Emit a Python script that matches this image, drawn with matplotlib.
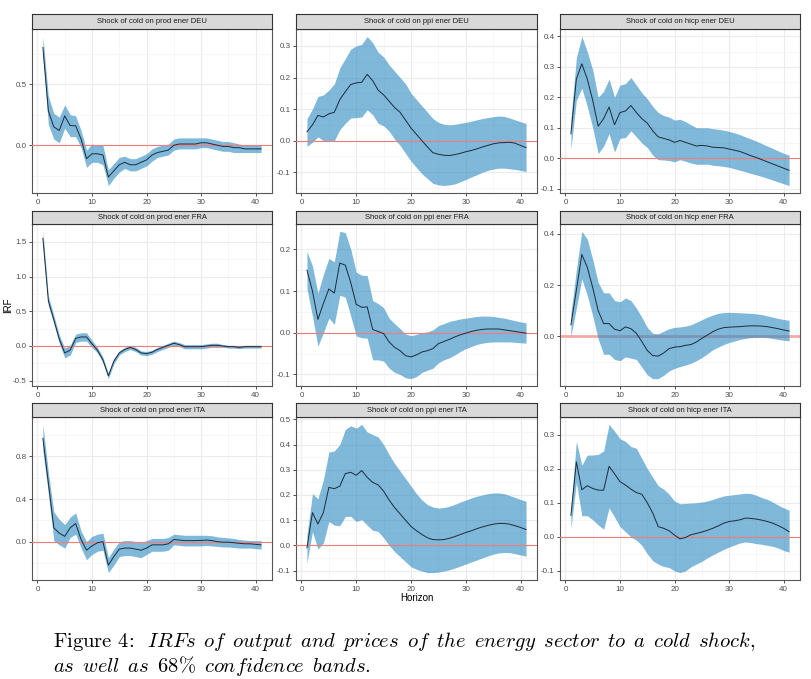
import matplotlib.pyplot as plt
from matplotlib.ticker import FormatStrFormatter

plt.rcParams['font.family'] = ['Liberation Sans', 'DejaVu Sans']
plt.rcParams['mathtext.fontset'] = 'cm'
plt.rcParams['axes.unicode_minus'] = False

horizon = list(range(1, 42))

# prod ener DEU
prod_deu = [0.80, 0.28, 0.15, 0.12, 0.24, 0.16, 0.16, 0.05, -0.11, -0.07,
            -0.07, -0.08, -0.26, -0.21, -0.16, -0.14, -0.16, -0.16, -0.14, -0.12,
            -0.08, -0.06, -0.05, -0.04, 0.00, 0.01, 0.01, 0.01, 0.01, 0.02,
            0.02, 0.01, 0.00, -0.01, -0.01, -0.02, -0.02, -0.03, -0.03, -0.03, -0.03]
prod_deu_hi = [0.89, 0.40, 0.26, 0.23, 0.33, 0.25, 0.24, 0.12, -0.04, 0.01,
               0.00, 0.00, -0.20, -0.15, -0.10, -0.09, -0.11, -0.11, -0.09, -0.07,
               -0.03, -0.01, 0.00, 0.01, 0.05, 0.06, 0.06, 0.06, 0.06, 0.06,
               0.06, 0.05, 0.04, 0.03, 0.03, 0.02, 0.01, 0.00, 0.00, 0.00, 0.00]
prod_deu_lo = [0.72, 0.17, 0.05, 0.02, 0.14, 0.07, 0.07, -0.02, -0.18, -0.14,
               -0.14, -0.16, -0.33, -0.27, -0.22, -0.19, -0.21, -0.21, -0.19, -0.17,
               -0.13, -0.10, -0.09, -0.08, -0.04, -0.03, -0.03, -0.03, -0.03, -0.02,
               -0.02, -0.03, -0.04, -0.05, -0.05, -0.06, -0.06, -0.06, -0.06, -0.06, -0.06]

# ppi ener DEU
ppi_deu = [0.028, 0.05, 0.08, 0.075, 0.085, 0.09, 0.13, 0.155, 0.178, 0.183,
           0.185, 0.21, 0.19, 0.16, 0.145, 0.125, 0.105, 0.09, 0.065, 0.04,
           0.02, 0.00, -0.02, -0.038, -0.043, -0.046, -0.047, -0.044, -0.04, -0.035,
           -0.031, -0.026, -0.02, -0.015, -0.01, -0.007, -0.006, -0.005, -0.008, -0.015, -0.022]
ppi_deu_hi = [0.07, 0.10, 0.14, 0.145, 0.16, 0.18, 0.23, 0.26, 0.29, 0.30,
              0.305, 0.33, 0.31, 0.28, 0.265, 0.24, 0.22, 0.20, 0.18, 0.15,
              0.13, 0.11, 0.09, 0.07, 0.058, 0.052, 0.05, 0.052, 0.055, 0.058,
              0.062, 0.066, 0.07, 0.073, 0.076, 0.078, 0.077, 0.072, 0.066, 0.06, 0.055]
ppi_deu_lo = [-0.018, -0.005, 0.012, 0.0, -0.003, 0.0, 0.035, 0.055, 0.072, 0.073,
              0.075, 0.098, 0.082, 0.055, 0.047, 0.03, 0.005, -0.015, -0.04, -0.065,
              -0.085, -0.105, -0.12, -0.135, -0.14, -0.142, -0.14, -0.137, -0.13, -0.123,
              -0.115, -0.108, -0.10, -0.094, -0.09, -0.087, -0.087, -0.089, -0.091, -0.094, -0.098]

# hicp ener DEU
hicp_deu = [0.08, 0.26, 0.31, 0.26, 0.19, 0.105, 0.13, 0.168, 0.11, 0.15,
            0.155, 0.173, 0.15, 0.13, 0.115, 0.09, 0.07, 0.065, 0.06, 0.052,
            0.058, 0.052, 0.046, 0.04, 0.042, 0.04, 0.036, 0.035, 0.034, 0.03,
            0.026, 0.022, 0.015, 0.008, 0.002, -0.005, -0.012, -0.019, -0.026, -0.033, -0.04]
hicp_deu_hi = [0.13, 0.33, 0.40, 0.35, 0.29, 0.20, 0.22, 0.26, 0.20, 0.24,
               0.245, 0.265, 0.24, 0.215, 0.195, 0.17, 0.15, 0.14, 0.135, 0.125,
               0.128, 0.12, 0.11, 0.10, 0.10, 0.10, 0.097, 0.095, 0.092, 0.088,
               0.083, 0.077, 0.07, 0.063, 0.056, 0.048, 0.04, 0.032, 0.024, 0.016, 0.01]
hicp_deu_lo = [0.03, 0.19, 0.23, 0.17, 0.10, 0.015, 0.04, 0.08, 0.02, 0.065,
               0.068, 0.09, 0.07, 0.05, 0.035, 0.01, -0.005, -0.006, -0.008, -0.012,
               -0.005, -0.01, -0.016, -0.02, -0.02, -0.02, -0.023, -0.025, -0.027, -0.03,
               -0.035, -0.04, -0.045, -0.05, -0.055, -0.06, -0.066, -0.072, -0.078, -0.084, -0.09]

# prod ener FRA
prod_fra = [1.55, 0.65, 0.38, 0.10, -0.10, -0.06, 0.11, 0.13, 0.13, 0.03,
            -0.06, -0.20, -0.43, -0.22, -0.10, -0.05, -0.02, -0.05, -0.10, -0.11,
            -0.09, -0.05, -0.02, 0.01, 0.04, 0.02, -0.01, -0.01, -0.01, -0.01,
            0.00, 0.01, 0.01, 0.00, -0.01, -0.01, -0.02, -0.01, -0.01, -0.01, -0.01]
prod_fra_hi = [1.65, 0.72, 0.44, 0.16, -0.03, 0.01, 0.17, 0.19, 0.19, 0.08,
               -0.02, -0.16, -0.39, -0.18, -0.07, -0.02, 0.01, -0.02, -0.07, -0.08,
               -0.06, -0.02, 0.01, 0.04, 0.07, 0.05, 0.02, 0.02, 0.02, 0.02,
               0.03, 0.04, 0.04, 0.02, 0.01, 0.01, 0.00, 0.01, 0.01, 0.01, 0.01]
prod_fra_lo = [1.45, 0.58, 0.32, 0.04, -0.17, -0.13, 0.05, 0.07, 0.07, -0.02,
               -0.10, -0.24, -0.47, -0.26, -0.13, -0.08, -0.05, -0.08, -0.13, -0.14,
               -0.12, -0.08, -0.05, -0.02, 0.01, -0.01, -0.04, -0.04, -0.04, -0.04,
               -0.03, -0.02, -0.02, -0.02, -0.03, -0.03, -0.04, -0.03, -0.03, -0.03, -0.03]

# ppi ener FRA
ppi_fra = [0.15, 0.10, 0.032, 0.07, 0.105, 0.095, 0.167, 0.162, 0.12, 0.068,
           0.061, 0.062, 0.008, 0.003, -0.002, -0.022, -0.035, -0.043, -0.055, -0.058,
           -0.053, -0.046, -0.043, -0.038, -0.026, -0.021, -0.016, -0.01, -0.005, -0.001,
           0.003, 0.006, 0.008, 0.009, 0.009, 0.009, 0.007, 0.005, 0.003, 0.001, -0.001]
ppi_fra_hi = [0.195, 0.16, 0.095, 0.14, 0.178, 0.17, 0.243, 0.24, 0.20, 0.145,
              0.138, 0.137, 0.077, 0.07, 0.06, 0.035, 0.022, 0.01, -0.003, -0.007,
              -0.004, 0.0, 0.002, 0.007, 0.017, 0.022, 0.027, 0.03, 0.033, 0.035,
              0.037, 0.039, 0.04, 0.04, 0.039, 0.037, 0.035, 0.032, 0.029, 0.026, 0.024]
ppi_fra_lo = [0.105, 0.04, -0.032, 0.0, 0.035, 0.02, 0.09, 0.085, 0.04, -0.008,
              -0.012, -0.013, -0.065, -0.065, -0.068, -0.085, -0.095, -0.10, -0.108, -0.11,
              -0.105, -0.095, -0.09, -0.085, -0.072, -0.065, -0.06, -0.053, -0.045, -0.038,
              -0.033, -0.028, -0.025, -0.023, -0.022, -0.022, -0.022, -0.022, -0.023, -0.024, -0.025]

# hicp ener FRA
hicp_fra = [0.045, 0.18, 0.32, 0.27, 0.19, 0.10, 0.05, 0.05, 0.028, 0.022,
            0.037, 0.03, 0.012, -0.02, -0.055, -0.075, -0.077, -0.065, -0.048, -0.042,
            -0.04, -0.035, -0.032, -0.022, -0.008, 0.005, 0.018, 0.028, 0.034, 0.036,
            0.037, 0.038, 0.04, 0.041, 0.041, 0.04, 0.038, 0.034, 0.03, 0.025, 0.021]
hicp_fra_hi = [0.09, 0.26, 0.41, 0.38, 0.30, 0.21, 0.17, 0.17, 0.14, 0.135,
               0.15, 0.14, 0.11, 0.075, 0.035, 0.012, 0.01, 0.02, 0.03, 0.035,
               0.037, 0.04, 0.045, 0.055, 0.065, 0.075, 0.083, 0.09, 0.093, 0.094,
               0.093, 0.092, 0.091, 0.09, 0.088, 0.085, 0.08, 0.075, 0.07, 0.066, 0.063]
hicp_fra_lo = [0.0, 0.11, 0.225, 0.16, 0.08, -0.01, -0.07, -0.07, -0.09, -0.095,
               -0.08, -0.085, -0.09, -0.12, -0.15, -0.165, -0.165, -0.152, -0.135, -0.125,
               -0.118, -0.112, -0.105, -0.095, -0.083, -0.068, -0.052, -0.042, -0.032, -0.024,
               -0.018, -0.012, -0.008, -0.005, -0.004, -0.004, -0.005, -0.008, -0.012, -0.015, -0.018]

# prod ener ITA
prod_ita = [0.97, 0.55, 0.13, 0.08, 0.05, 0.13, 0.17, 0.02, -0.08, -0.04,
            -0.01, 0.00, -0.22, -0.14, -0.07, -0.06, -0.06, -0.07, -0.08, -0.06,
            -0.03, -0.03, -0.03, -0.02, 0.02, 0.015, 0.01, 0.01, 0.01, 0.012,
            0.015, 0.01, 0.0, -0.005, -0.005, -0.01, -0.015, -0.02, -0.02, -0.025, -0.03]
prod_ita_hi = [1.10, 0.65, 0.28, 0.21, 0.16, 0.23, 0.27, 0.10, 0.00, 0.05,
               0.07, 0.08, -0.15, -0.07, 0.00, 0.01, 0.01, 0.00, -0.01, 0.01,
               0.03, 0.03, 0.03, 0.04, 0.07, 0.065, 0.06, 0.06, 0.06, 0.06,
               0.06, 0.055, 0.045, 0.04, 0.035, 0.03, 0.02, 0.015, 0.01, 0.01, 0.01]
prod_ita_lo = [0.85, 0.45, 0.01, -0.03, -0.06, 0.04, 0.07, -0.06, -0.17, -0.12,
               -0.09, -0.08, -0.29, -0.22, -0.14, -0.13, -0.13, -0.14, -0.15, -0.12,
               -0.09, -0.09, -0.09, -0.08, -0.03, -0.035, -0.04, -0.04, -0.04, -0.04,
               -0.035, -0.04, -0.045, -0.05, -0.05, -0.055, -0.06, -0.06, -0.06, -0.065, -0.07]

# ppi ener ITA
ppi_ita = [-0.01, 0.13, 0.085, 0.13, 0.23, 0.225, 0.235, 0.285, 0.29, 0.278,
           0.297, 0.27, 0.25, 0.24, 0.215, 0.18, 0.15, 0.125, 0.10, 0.075,
           0.058, 0.043, 0.03, 0.023, 0.022, 0.023, 0.028, 0.035, 0.043, 0.051,
           0.058, 0.066, 0.073, 0.079, 0.084, 0.087, 0.087, 0.084, 0.078, 0.071, 0.063]
ppi_ita_hi = [0.04, 0.205, 0.185, 0.26, 0.37, 0.375, 0.40, 0.46, 0.475, 0.465,
              0.48, 0.45, 0.44, 0.43, 0.40, 0.36, 0.325, 0.295, 0.265, 0.235,
              0.205, 0.18, 0.162, 0.152, 0.148, 0.15, 0.155, 0.163, 0.172, 0.18,
              0.188, 0.195, 0.20, 0.205, 0.208, 0.208, 0.205, 0.198, 0.19, 0.182, 0.175]
ppi_ita_lo = [-0.07, 0.055, -0.015, 0.01, 0.095, 0.08, 0.078, 0.115, 0.115, 0.095,
              0.102, 0.08, 0.06, 0.055, 0.03, 0.0, -0.025, -0.045, -0.065, -0.085,
              -0.095, -0.102, -0.108, -0.108, -0.106, -0.102, -0.097, -0.09, -0.082, -0.074,
              -0.066, -0.058, -0.05, -0.042, -0.035, -0.03, -0.028, -0.029, -0.033, -0.038, -0.043]

# hicp ener ITA
hicp_ita = [0.063, 0.22, 0.138, 0.15, 0.142, 0.137, 0.137, 0.207, 0.185, 0.162,
            0.152, 0.14, 0.13, 0.125, 0.10, 0.07, 0.03, 0.025, 0.018, 0.005,
            -0.006, -0.002, 0.006, 0.01, 0.014, 0.019, 0.025, 0.032, 0.04, 0.045,
            0.047, 0.05, 0.055, 0.054, 0.052, 0.049, 0.045, 0.04, 0.033, 0.025, 0.015]
hicp_ita_hi = [0.085, 0.28, 0.21, 0.24, 0.24, 0.242, 0.252, 0.33, 0.31, 0.288,
               0.28, 0.265, 0.26, 0.23, 0.20, 0.175, 0.15, 0.14, 0.125, 0.105,
               0.097, 0.098, 0.099, 0.10, 0.102, 0.105, 0.11, 0.115, 0.12, 0.122,
               0.124, 0.126, 0.128, 0.127, 0.122, 0.115, 0.11, 0.102, 0.093, 0.085, 0.078]
hicp_ita_lo = [0.025, 0.16, 0.062, 0.062, 0.05, 0.035, 0.022, 0.085, 0.058, 0.03,
               0.015, 0.0, -0.01, -0.025, -0.05, -0.07, -0.08, -0.087, -0.09, -0.10,
               -0.105, -0.10, -0.088, -0.08, -0.072, -0.062, -0.053, -0.045, -0.037, -0.03,
               -0.024, -0.018, -0.015, -0.017, -0.02, -0.022, -0.025, -0.028, -0.033, -0.04, -0.045]

titles = ['Shock of cold on prod ener DEU', 'Shock of cold on ppi ener DEU', 'Shock of cold on hicp ener DEU',
          'Shock of cold on prod ener FRA', 'Shock of cold on ppi ener FRA', 'Shock of cold on hicp ener FRA',
          'Shock of cold on prod ener ITA', 'Shock of cold on ppi ener ITA', 'Shock of cold on hicp ener ITA']
yticks = [[0.0, 0.5], [-0.1, 0.0, 0.1, 0.2, 0.3], [-0.1, 0.0, 0.1, 0.2, 0.3, 0.4],
          [-0.5, 0.0, 0.5, 1.0, 1.5], [-0.1, 0.0, 0.1, 0.2], [0.0, 0.2, 0.4],
          [0.0, 0.4, 0.8], [-0.1, 0.0, 0.1, 0.2, 0.3, 0.4, 0.5], [-0.1, 0.0, 0.1, 0.2, 0.3]]
xticks = [0, 10, 20, 30, 40]

caption_1 = 'IRFs of output and prices of the energy sector to a cold shock,'
caption_2a = 'as well as'
caption_2b = 'confidence bands.'

series = [(prod_deu, prod_deu_lo, prod_deu_hi), (ppi_deu, ppi_deu_lo, ppi_deu_hi), (hicp_deu, hicp_deu_lo, hicp_deu_hi),
          (prod_fra, prod_fra_lo, prod_fra_hi), (ppi_fra, ppi_fra_lo, ppi_fra_hi), (hicp_fra, hicp_fra_lo, hicp_fra_hi),
          (prod_ita, prod_ita_lo, prod_ita_hi), (ppi_ita, ppi_ita_lo, ppi_ita_hi), (hicp_ita, hicp_ita_lo, hicp_ita_hi)]

W, H = 812, 679
fig = plt.figure(figsize=(W / 100, H / 100), dpi=100)

# panel placement in pixels
cols = [(32, 272), (296, 537), (560, 800)]
rows = [(14, 29, 193), (211, 224, 386), (403, 417, 580)]


def box(x0, x1, top, bottom):
    return [x0 / W, 1 - bottom / H, (x1 - x0) / W, (bottom - top) / H]


def it(s):
    # italic words in mathtext, with a little wider word spacing like LaTeX text
    return r'\mathit{' + s.replace(' ', r'}\ \,\mathit{') + '}'


edge = '#333333'
for i, (title, (mid, lo, hi), yt) in enumerate(zip(titles, series, yticks)):
    r, c = divmod(i, 3)
    x0, x1 = cols[c]
    st, at, ab = rows[r]
    ax = fig.add_axes(box(x0, x1, at, ab))
    ax.fill_between(horizon, lo, hi, color='#2A89C1', alpha=0.6, lw=0, zorder=2)
    if i == 5:
        # this panel has the zero line under the band, a bit thicker
        ax.axhline(0, color='#F7A8A8', lw=2.0, zorder=1.5)
    else:
        ax.axhline(0, color='#F27C7C', lw=0.8, zorder=3)
    ax.plot(horizon, mid, color='#1B2B3B', lw=0.7, zorder=4)

    ymin, ymax = min(lo), max(hi)
    pad = (ymax - ymin) * 0.05
    ax.set_xlim(-1, 43)

    ax.set_xticks(xticks)
    ax.set_xticks([5, 15, 25, 35], minor=True)
    step = yt[1] - yt[0]
    ax.set_yticks(yt)
    ax.set_yticks([yt[0] - step / 2] + [t + step / 2 for t in yt], minor=True)
    ax.set_ylim(ymin - pad, ymax + pad)
    ax.yaxis.set_major_formatter(FormatStrFormatter('%.1f'))

    ax.set_axisbelow(True)
    ax.grid(which='major', color='#EBEBEB', lw=0.8)
    ax.grid(which='minor', color='#F3F3F3', lw=0.5)
    ax.tick_params(which='major', direction='out', length=2.5, width=0.6, color=edge,
                   labelsize=5.8, labelcolor='#4D4D4D', pad=1.5)
    ax.tick_params(which='minor', length=0)
    for s in ax.spines.values():
        s.set_color('#555555')
        s.set_linewidth(0.8)

    # facet strip
    sax = fig.add_axes(box(x0, x1, st, at))
    sax.set_facecolor('#D9D9D9')
    sax.set_xticks([])
    sax.set_yticks([])
    for s in sax.spines.values():
        s.set_color(edge)
        s.set_linewidth(0.8)
    sax.text(0.5, 0.5, title, ha='center', va='center', fontsize=5.5, color='#1A1A1A',
             transform=sax.transAxes)

fig.text(8 / W, 1 - 305 / H, 'IRF', rotation=90, ha='center', va='center', fontsize=7)
fig.text(417 / W, 1 - 598 / H, 'Horizon', ha='center', va='center', fontsize=7)

# caption
fig.text(53 / W, 1 - 647 / H, 'Figure 4:  $' + it(caption_1) + '$',
         fontfamily='cmr10', fontsize=14.8, va='baseline')
fig.text(53 / W, 1 - 672 / H, '$' + it(caption_2a) + r'\ \,68\%\ \,' + it(caption_2b) + '$',
         fontfamily='cmr10', fontsize=14.8, va='baseline')

plt.savefig('out.png', dpi=100)
